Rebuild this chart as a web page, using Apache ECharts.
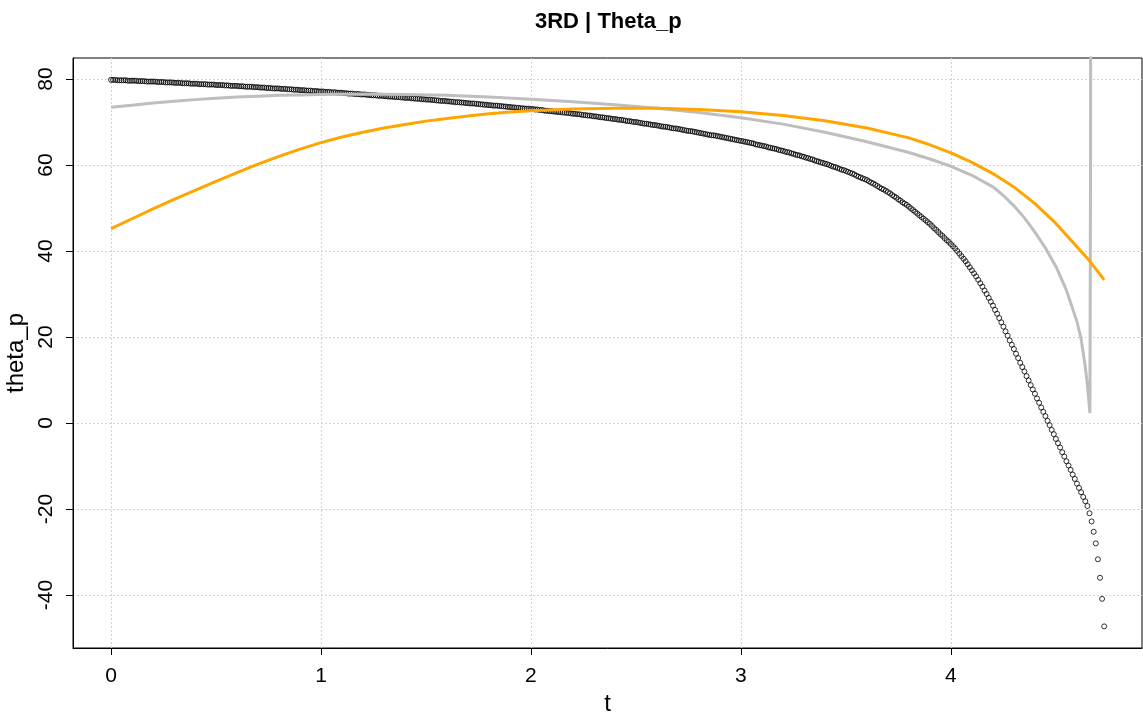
<!DOCTYPE html>
<html>
<head>
<meta charset="utf-8">
<script src="https://cdn.jsdelivr.net/npm/echarts@6/dist/echarts.min.js"></script>
<style>
html,body{margin:0;padding:0;background:#fff;}
#chart{width:1143px;height:712px;}
</style>
</head>
<body>
<div id="chart"></div>
<script>
// theta_p observed, one value every 0.01 in t, starting at t = 0
var tStep = 0.01;
var thetaObs = [
  79.8,79.8,79.8,79.7,79.7,79.7,79.7,79.7,79.6,79.6,
  79.6,79.6,79.6,79.5,79.5,79.5,79.5,79.4,79.4,79.4,
  79.4,79.4,79.3,79.3,79.3,79.3,79.2,79.2,79.2,79.2,
  79.1,79.1,79.1,79.1,79.0,79.0,79.0,79.0,78.9,78.9,
  78.9,78.9,78.8,78.8,78.8,78.8,78.7,78.7,78.7,78.7,
  78.6,78.6,78.6,78.6,78.5,78.5,78.5,78.4,78.4,78.4,
  78.4,78.3,78.3,78.3,78.2,78.2,78.2,78.2,78.1,78.1,
  78.1,78.0,78.0,78.0,77.9,77.9,77.9,77.8,77.8,77.8,
  77.8,77.7,77.7,77.7,77.6,77.6,77.6,77.5,77.5,77.5,
  77.4,77.4,77.4,77.3,77.3,77.3,77.2,77.2,77.2,77.1,
  77.1,77.1,77.0,77.0,77.0,76.9,76.9,76.9,76.8,76.8,
  76.8,76.7,76.7,76.6,76.6,76.6,76.5,76.5,76.5,76.4,
  76.4,76.4,76.3,76.3,76.2,76.2,76.2,76.1,76.1,76.1,
  76.0,76.0,75.9,75.9,75.9,75.8,75.8,75.8,75.7,75.7,
  75.6,75.6,75.6,75.5,75.5,75.4,75.4,75.4,75.3,75.3,
  75.2,75.2,75.2,75.1,75.1,75.0,75.0,74.9,74.9,74.9,
  74.8,74.8,74.7,74.7,74.6,74.6,74.6,74.5,74.5,74.4,
  74.4,74.3,74.3,74.3,74.2,74.2,74.1,74.1,74.0,74.0,
  73.9,73.9,73.8,73.8,73.8,73.7,73.7,73.6,73.6,73.5,
  73.5,73.4,73.4,73.3,73.3,73.2,73.2,73.1,73.1,73.1,
  73.0,73.0,72.9,72.9,72.8,72.8,72.7,72.6,72.6,72.5,
  72.5,72.4,72.4,72.3,72.3,72.2,72.2,72.1,72.1,72.0,
  71.9,71.9,71.8,71.8,71.7,71.6,71.6,71.5,71.5,71.4,
  71.3,71.3,71.2,71.1,71.1,71.0,70.9,70.9,70.8,70.7,
  70.7,70.6,70.5,70.5,70.4,70.3,70.2,70.2,70.1,70.0,
  70.0,69.9,69.8,69.7,69.6,69.6,69.5,69.4,69.3,69.3,
  69.2,69.1,69.0,68.9,68.9,68.8,68.7,68.6,68.5,68.5,
  68.4,68.3,68.2,68.1,68.0,67.9,67.9,67.8,67.7,67.6,
  67.5,67.4,67.3,67.2,67.1,67.0,66.9,66.9,66.8,66.7,
  66.6,66.5,66.4,66.3,66.2,66.1,66.0,65.9,65.8,65.7,
  65.6,65.5,65.4,65.3,65.2,65.1,65.0,64.8,64.7,64.6,
  64.5,64.4,64.3,64.1,64.0,63.9,63.8,63.7,63.5,63.4,
  63.3,63.1,63.0,62.9,62.7,62.6,62.4,62.3,62.2,62.0,
  61.9,61.7,61.6,61.4,61.3,61.1,60.9,60.8,60.6,60.5,
  60.3,60.2,60.0,59.8,59.6,59.5,59.3,59.1,58.9,58.8,
  58.6,58.4,58.2,58.0,57.8,57.5,57.3,57.1,56.9,56.7,
  56.5,56.2,55.9,55.7,55.4,55.1,54.8,54.5,54.3,54.0,
  53.7,53.4,53.0,52.7,52.4,52.0,51.7,51.3,51.0,50.7,
  50.3,49.9,49.5,49.1,48.7,48.3,47.9,47.5,47.1,46.7,
  46.3,45.8,45.3,44.9,44.4,43.9,43.5,43.0,42.5,42.1,
  41.6,41.1,40.6,40.0,39.4,38.8,38.2,37.6,36.9,36.2,
  35.5,34.8,34.1,33.3,32.5,31.7,30.8,30.0,29.1,28.2,
  27.3,26.3,25.4,24.4,23.4,22.4,21.3,20.3,19.2,18.2,
  17.2,16.1,15.1,14.0,13.0,12.0,10.9,9.9,8.8,7.8,
  6.8,5.7,4.7,3.6,2.6,1.6,0.5,-0.5,-1.6,-2.6,
  -3.7,-4.7,-5.7,-6.8,-7.8,-8.9,-9.9,-10.9,-12.0,-13.0,
  -14.1,-15.1,-16.1,-17.2,-18.2,-19.3,-21.0,-22.9,-25.3,-28.0,
  -31.7,-36.0,-40.9,-47.3
];

// grey curve
var grayT = [0,0.1,0.2,0.3,0.4,0.5,0.6,0.7,0.8,0.9,1.0,1.2,1.4,1.6,1.8,2.0,2.2,2.4,2.6,2.8,
  3.0,3.2,3.4,3.6,3.8,3.9,4.0,4.1,4.2,4.25,4.3,4.35,4.4,4.45,4.5,4.55,4.6,4.62,4.64,4.65,4.662,4.665,4.67];
var grayV = [73.4,73.9,74.4,74.8,75.2,75.5,75.8,76.0,76.2,76.3,76.4,76.5,76.4,76.2,75.8,75.3,74.7,74.0,73.2,72.2,
  71.0,69.5,67.6,65.4,62.9,61.4,59.7,57.6,54.9,52.9,50.5,47.7,44.4,40.7,36.4,30.9,23.6,19.6,13.0,8.8,2.3,62,400];

// orange curve
var orangeT = [0,0.1,0.2,0.3,0.4,0.5,0.6,0.7,0.8,0.9,1.0,1.1,1.2,1.3,1.4,1.5,1.6,1.7,1.8,1.9,2.0,
  2.2,2.4,2.6,2.8,3.0,3.2,3.4,3.6,3.8,3.9,4.0,4.1,4.2,4.3,4.4,4.5,4.6,4.65,4.7,4.73];
var orangeV = [45.2,47.5,49.8,52.0,54.1,56.2,58.2,60.2,62.0,63.7,65.2,66.5,67.6,68.6,69.4,70.2,70.8,71.4,71.9,72.3,72.6,
  73.0,73.2,73.2,72.9,72.4,71.5,70.3,68.6,66.3,64.7,62.8,60.6,58.0,54.9,51.0,46.4,41.0,38.3,35.2,33.3];

var xTicks = [0,1,2,3,4];
var yTicks = [-40,-20,0,20,40,60,80];

function pairs(ts, vs){
  var out = [];
  for (var i = 0; i < ts.length; i++) out.push([ts[i], vs[i]]);
  return out;
}
var obsData = thetaObs.map(function(v, i){ return [+(i*tStep).toFixed(2), v]; });

var FONT = '"Liberation Sans", Arial, sans-serif';
var myChart = echarts.init(document.getElementById('chart'));
var option = {
  animation: false,
  backgroundColor: '#fff',
  title: {
    text: '3RD | Theta_p',
    left: 530,
    top: 6,
    textStyle: {fontFamily: FONT, fontSize: 22, fontWeight: 'bold', color: '#000'}
  },
  grid: {
    left: 73, right: 1, top: 58, bottom: 64,
    outerBoundsMode: 'none',
    show: true, borderColor: '#000', borderWidth: 1
  },
  xAxis: {
    type: 'value',
    min: -0.181, max: 4.91,
    name: 't', nameLocation: 'middle', nameGap: 44,
    nameTextStyle: {fontFamily: FONT, fontSize: 24, color: '#000'},
    axisLine: {show: true, onZero: false, lineStyle: {color: '#000', width: 1}},
    axisTick: {show: true, length: 7, customValues: xTicks, lineStyle: {color: '#000'}},
    axisLabel: {customValues: xTicks, margin: 18, fontFamily: FONT, fontSize: 21, color: '#000'},
    splitLine: {show: true, lineStyle: {color: '#d3d3d3', type: [2, 2], width: 1}}
  },
  yAxis: {
    type: 'value',
    min: -52.33, max: 84.88,
    name: 'theta_p', nameLocation: 'middle', nameGap: 43,
    nameTextStyle: {fontFamily: FONT, fontSize: 24, color: '#000'},
    axisLine: {show: true, onZero: false, lineStyle: {color: '#000', width: 1}},
    axisTick: {show: true, length: 7, customValues: yTicks, lineStyle: {color: '#000'}},
    axisLabel: {customValues: yTicks, rotate: 90, margin: 16, fontFamily: FONT, fontSize: 21, color: '#000'},
    splitLine: {show: true, lineStyle: {color: '#d3d3d3', type: [2, 2], width: 1}}
  },
  series: [
    {
      name: 'theta_p',
      type: 'scatter',
      data: obsData,
      symbol: 'circle',
      symbolSize: 5,
      itemStyle: {color: 'rgba(0,0,0,0)', borderColor: '#000', borderWidth: 1},
      z: 2
    },
    {
      name: 'grey',
      type: 'line',
      data: pairs(grayT, grayV),
      showSymbol: false,
      clip: true,
      lineStyle: {color: '#BEBEBE', width: 3},
      z: 3
    },
    {
      name: 'orange',
      type: 'line',
      data: pairs(orangeT, orangeV),
      showSymbol: false,
      clip: true,
      lineStyle: {color: '#FFA500', width: 3},
      z: 4
    }
  ]
};
myChart.setOption(option);
</script>
</body>
</html>
